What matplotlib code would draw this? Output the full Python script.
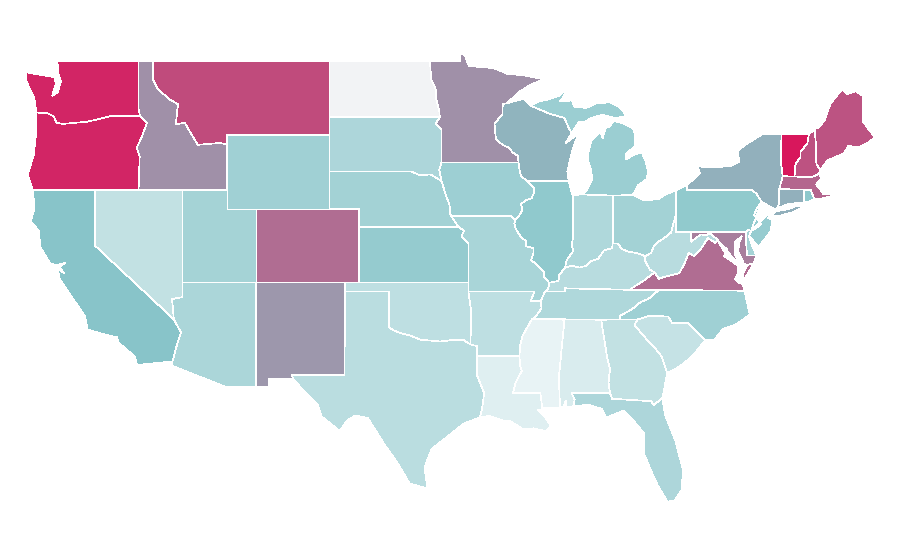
import matplotlib
matplotlib.use("Agg")
import matplotlib.pyplot as plt
from matplotlib.colors import LinearSegmentedColormap

# shared borders, (lon, lat)
RED_RIVER_N = [(-97.23,49.0),(-97.15,48.0),(-96.85,47.5),(-96.8,46.9),(-96.6,46.3),(-96.56,45.94)]
MN_SD = [(-96.56,45.94),(-96.85,45.6),(-96.45,45.3),(-96.45,43.5)]
SD_IA = [(-96.45,43.5),(-96.6,43.1),(-96.45,42.49)]
NE_SD = [(-104.05,43.0),(-98.5,43.0),(-97.9,42.8),(-97.2,42.85),(-96.45,42.49)]
NE_IA = [(-96.45,42.49),(-96.1,41.6),(-95.9,41.2),(-95.85,40.7),(-95.77,40.58)]
MO_NE = [(-95.77,40.58),(-95.3,40.0)]
MO_KS = [(-95.3,40.0),(-94.9,39.8),(-95.1,39.5),(-94.61,39.1),(-94.62,37.0)]
MN_WI = [(-92.0,46.7),(-92.29,46.66),(-92.3,46.1),(-92.85,45.6),(-92.75,44.74),(-92.3,44.45),(-91.9,44.3),(-91.6,44.03),(-91.25,43.85),(-91.22,43.5)]
IA_WI = [(-91.22,43.5),(-91.15,43.1),(-91.05,42.75),(-90.64,42.51)]
IA_IL = [(-90.64,42.51),(-90.42,42.33),(-90.15,42.1),(-90.17,41.85),(-90.33,41.55),(-90.7,41.45),(-91.05,41.25),(-90.95,40.95),(-91.1,40.7),(-91.42,40.38)]
MO_IL = [(-91.42,40.38),(-91.5,40.2),(-91.4,39.9),(-91.05,39.45),(-90.73,39.25),(-90.68,38.95),(-90.2,38.85),(-90.2,38.6),(-90.35,38.2),(-89.95,37.95),(-89.5,37.6),(-89.5,37.3),(-89.13,36.98)]
MO_KY = [(-89.13,36.98),(-89.2,36.65),(-89.42,36.5)]
MO_TN = [(-89.42,36.5),(-89.7,36.0)]
AR_TN = [(-89.7,36.0),(-89.65,35.6),(-90.1,35.1),(-90.3,35.0)]
AR_MS = [(-90.3,35.0),(-90.6,34.6),(-90.95,34.1),(-91.1,33.6),(-91.16,33.0)]
LA_MS = [(-91.16,33.0),(-91.1,32.5),(-91.0,32.2),(-91.4,31.6),(-91.6,31.0),(-89.73,31.0),(-89.6,30.18)]
IL_KY = [(-89.13,36.98),(-88.5,37.08),(-88.45,37.4),(-88.05,37.8)]
IN_KY = [(-88.05,37.8),(-87.6,37.9),(-87.1,37.8),(-86.6,37.9),(-86.3,38.15),(-85.8,38.28),(-85.42,38.73),(-84.85,38.85),(-84.82,39.1)]
OH_KY = [(-84.82,39.1),(-84.45,39.1),(-84.2,38.8),(-83.7,38.65),(-83.2,38.6),(-82.6,38.42)]
OH_WV = [(-82.6,38.42),(-82.2,38.6),(-82.0,39.0),(-81.75,39.2),(-81.4,39.35),(-80.85,39.7),(-80.7,40.2),(-80.52,40.64)]
KY_WV = [(-82.6,38.42),(-82.6,38.15),(-82.3,37.7),(-81.97,37.54)]
KY_VA = [(-81.97,37.54),(-82.7,37.1),(-83.68,36.6)]
VA_WV = [(-81.97,37.54),(-81.68,37.2),(-81.3,37.3),(-80.3,37.5),(-79.95,38.0),(-79.65,38.6),(-79.3,38.42),(-78.87,38.76),(-78.35,39.4),(-77.83,39.13),(-77.72,39.32)]
MD_WV = [(-77.72,39.32),(-78.2,39.68),(-78.45,39.55),(-78.8,39.6),(-79.1,39.45),(-79.48,39.2),(-79.48,39.72)]
POTOMAC = [(-77.72,39.32),(-77.5,39.1),(-77.04,38.79),(-77.25,38.4),(-76.95,38.27)]
IL_IN = [(-87.53,41.7),(-87.53,39.35),(-87.6,39.0),(-87.5,38.7),(-87.95,38.2),(-88.05,37.8)]
IN_OH = [(-84.8,41.7),(-84.82,39.1)]
WI_MI = [(-90.4,46.57),(-89.1,46.13),(-88.1,45.9),(-87.8,45.35),(-87.6,45.1)]
DELAWARE_R = [(-75.35,42.0),(-75.05,41.8),(-74.7,41.36),(-75.05,40.99),(-75.2,40.65),(-74.72,40.15),(-75.13,39.9),(-75.42,39.8)]
VT_NH = [(-71.5,45.0),(-71.6,44.5),(-72.05,44.1),(-72.05,43.8),(-72.4,43.4),(-72.45,43.0),(-72.46,42.73)]
NH_ME = [(-71.1,45.3),(-71.03,44.65),(-70.98,43.4),(-70.7,43.07)]
GA_SC = [(-83.1,35.0),(-83.35,34.7),(-82.6,34.0),(-82.0,33.5),(-81.5,33.0),(-81.12,32.1)]
GA_AL = [(-85.6,34.98),(-85.18,32.87),(-85.0,32.3),(-85.1,31.6),(-85.0,31.0)]
GA_FL = [(-85.0,31.0),(-84.86,30.7),(-82.2,30.57),(-82.05,30.36),(-81.45,30.72)]
NC_SC = [(-83.1,35.0),(-82.3,35.2),(-81.05,35.15),(-80.8,34.82),(-79.67,34.8),(-78.55,33.86)]
NC_TN = [(-84.32,34.99),(-84.3,35.2),(-83.5,35.55),(-82.9,35.95),(-82.4,36.1),(-81.68,36.59)]
VA_S = [(-83.68,36.6),(-81.68,36.59),(-75.87,36.55)]
RED_RIVER_S = [(-100.0,34.56),(-99.7,34.4),(-99.2,34.25),(-98.5,34.1),(-97.9,33.9),(-97.2,33.85),(-96.5,33.8),(-95.5,33.9),(-95.0,33.9),(-94.48,33.64)]
TX_LA = [(-94.04,33.02),(-94.04,31.99),(-93.55,31.0),(-93.7,30.1),(-93.84,29.69)]
OR_WA = [(-123.97,46.2),(-123.2,46.15),(-122.8,46.0),(-122.6,45.65),(-122.2,45.58),(-121.2,45.65),(-120.5,45.7),(-119.3,45.93),(-118.98,46.0),(-116.92,46.0)]
OR_ID = [(-116.92,46.0),(-116.45,45.65),(-116.85,44.8),(-117.15,44.3),(-116.95,43.83),(-117.03,42.0)]
ID_MT = [(-116.05,49.0),(-116.05,48.0),(-115.7,47.45),(-114.9,46.9),(-114.35,46.65),(-114.5,45.55),(-113.9,45.65),(-113.45,45.05),(-113.0,44.45),(-111.5,44.55),(-111.05,44.48)]
CA_AZ = [(-114.63,35.0),(-114.15,34.3),(-114.5,33.4),(-114.72,32.72)]
NV_AZ = [(-114.05,36.2),(-114.75,36.1),(-114.63,35.0)]


def rev(seg):
    return seg[::-1]


def chain(*segs):
    out = []
    for s in segs:
        out += s
    return out


state_names = ["WA", "OR", "CA", "NV", "ID", "MT", "WY", "UT", "AZ", "CO", "NM", "ND", "SD", "NE", "KS", "OK", "TX",
               "MN", "IA", "MO", "AR", "LA", "WI", "IL", "MS", "MI", "IN", "KY", "TN", "AL", "OH", "WV", "VA", "NC",
               "SC", "GA", "FL", "PA", "NY", "VT", "NH", "ME", "MA", "CT", "RI", "NJ", "DE", "MD"]

# colour score per state, None = no data
state_values = [0.96, 0.96, 0.50, 0.20, 0.65, 0.85, 0.375, 0.35, 0.32, 0.75, 0.63, None, 0.31, 0.36, 0.43, 0.22, 0.24,
                0.65, 0.39, 0.33, 0.22, 0.05, 0.55, 0.46, 0.0, 0.40, 0.30, 0.25, 0.30, 0.08, 0.36, 0.25, 0.75, 0.38,
                0.18, 0.20, 0.31, 0.45, 0.56, 1.0, 0.83, 0.825, 0.77, 0.56, 0.47, 0.42, 0.35, 0.70]

state_shapes = {
    "WA": [chain(OR_WA, [(-117.04,46.4),(-117.04,49.0),(-122.6,49.0),(-122.5,48.7),(-122.45,48.2),(-122.3,47.9),(-122.5,47.3),(-122.9,47.1),(-122.65,47.75),(-122.75,48.12),(-123.2,48.17),(-124.7,48.38),(-124.65,47.9),(-124.1,46.95),(-124.05,46.65)])],
    "OR": [chain(OR_WA, OR_ID, [(-124.2,42.0),(-124.55,42.84),(-124.15,43.9),(-124.0,45.0)])],
    "CA": [chain([(-124.2,42.0),(-120.0,42.0),(-120.0,39.0)], CA_AZ, [(-117.12,32.53),(-117.3,33.0),(-118.4,33.75),(-118.5,34.03),(-119.2,34.15),(-120.5,34.45),(-120.65,35.15),(-121.9,36.6),(-122.4,37.2),(-122.5,37.75),(-122.1,37.5),(-122.4,37.85),(-122.0,38.05),(-122.5,37.95),(-123.0,38.0),(-123.7,38.9),(-123.8,39.8),(-124.35,40.3),(-124.1,41.0)])],
    "NV": [chain([(-120.0,42.0),(-114.05,42.0)], NV_AZ, [(-120.0,39.0)])],
    "ID": [chain([(-117.04,46.4),(-117.04,49.0)], ID_MT, [(-111.05,42.0)], rev(OR_ID))],
    "MT": [chain(ID_MT, [(-111.05,45.0),(-104.05,45.0),(-104.05,49.0)])],
    "WY": [[(-111.05,45.0),(-104.05,45.0),(-104.05,41.0),(-111.05,41.0)]],
    "UT": [[(-114.05,42.0),(-111.05,42.0),(-111.05,41.0),(-109.05,41.0),(-109.05,37.0),(-114.05,37.0)]],
    "AZ": [chain([(-114.05,37.0),(-109.05,37.0),(-109.05,31.33),(-111.07,31.33),(-114.8,32.5)], rev(CA_AZ), rev(NV_AZ))],
    "CO": [[(-109.05,41.0),(-102.05,41.0),(-102.05,37.0),(-109.05,37.0)]],
    "NM": [[(-109.05,37.0),(-103.0,37.0),(-103.04,32.0),(-106.62,32.0),(-106.53,31.78),(-108.2,31.78),(-108.2,31.33),(-109.05,31.33)]],
    "ND": [chain([(-104.05,49.0)], RED_RIVER_N, [(-104.05,45.94)])],
    "SD": [chain([(-104.05,45.94)], MN_SD, SD_IA, rev(NE_SD))],
    "NE": [chain(NE_SD, NE_IA, MO_NE, [(-102.05,40.0),(-102.05,41.0),(-104.05,41.0)])],
    "KS": [chain(MO_KS, [(-102.05,37.0),(-102.05,40.0)])],
    "OK": [chain([(-103.0,37.0),(-94.62,37.0),(-94.62,36.5),(-94.43,35.4)], rev(RED_RIVER_S), [(-100.0,36.5),(-103.0,36.5)])],
    "TX": [chain([(-103.0,36.5),(-100.0,36.5)], RED_RIVER_S, [(-94.04,33.55)], TX_LA, [(-94.95,29.35),(-96.05,28.65),(-97.1,28.0),(-97.45,27.3),(-97.6,26.95),(-97.4,25.85),(-98.6,26.1),(-99.5,27.3),(-100.3,28.2),(-101.45,29.65),(-102.3,29.8),(-102.9,29.5),(-103.35,28.95),(-104.6,29.75),(-104.85,30.4),(-105.6,30.95),(-106.53,31.78),(-106.62,32.0),(-103.04,32.0)])],
    "MN": [chain([(-97.23,49.0),(-95.15,49.0),(-95.15,49.38),(-94.85,49.3),(-94.6,48.72),(-92.9,48.6),(-92.0,48.3),(-90.8,48.2),(-89.5,48.0),(-90.4,47.7),(-91.2,47.3)], MN_WI, [(-96.45,43.5)], rev(MN_SD), rev(RED_RIVER_N))],
    "IA": [chain([(-96.45,43.5)], [(-91.22,43.5)], IA_WI, IA_IL, [(-91.73,40.61)], rev(NE_IA), rev(SD_IA))],
    "MO": [chain([(-95.77,40.58),(-91.73,40.61)], MO_IL, MO_KY, MO_TN, [(-90.37,36.0),(-90.15,36.5),(-94.62,36.5)], rev(MO_KS), rev(MO_NE))],
    "AR": [chain([(-94.62,36.5),(-90.15,36.5),(-90.37,36.0)], AR_TN, AR_MS, [(-94.04,33.02),(-94.04,33.55),(-94.48,33.64),(-94.43,35.4)])],
    "LA": [chain([(-94.04,33.02)], LA_MS, [(-89.4,30.05),(-89.9,30.1),(-89.5,29.8),(-89.0,29.2),(-89.4,28.95),(-90.2,29.1),(-90.9,29.05),(-91.8,29.5),(-92.3,29.53),(-93.2,29.77)], rev(TX_LA))],
    "WI": [chain([(-90.4,46.57),(-90.85,46.95)], MN_WI, IA_WI, [(-87.8,42.49),(-87.9,43.0),(-87.7,43.7),(-87.5,44.3),(-87.05,45.25),(-87.4,44.9),(-88.0,44.55)], rev(WI_MI))],
    "IL": [chain([(-90.64,42.51),(-87.8,42.49),(-87.6,41.85)], IL_IN, rev(IL_KY), rev(MO_IL), rev(IA_IL))],
    "MS": [chain(rev(LA_MS), rev(AR_MS), [(-88.2,35.0),(-88.1,34.9),(-88.47,31.9),(-88.4,30.2)])],
    "MI": [chain([(-86.82,41.76),(-86.5,42.1),(-86.2,42.6),(-86.3,43.1),(-86.5,43.65),(-86.45,44.1),(-86.25,44.7),(-85.95,44.9),(-85.65,45.15),(-85.5,44.8),(-85.3,45.35),(-85.0,45.45),(-84.75,45.75),(-84.2,45.63),(-83.45,45.35),(-83.3,45.0),(-83.3,44.4),(-83.9,43.95),(-83.9,43.65),(-83.4,43.9),(-82.85,44.05),(-82.6,43.6),(-82.42,43.0),(-82.5,42.6),(-83.1,42.25),(-83.45,41.73),(-84.8,41.7)]),
           chain([(-89.8,46.8),(-89.2,46.9),(-88.45,47.1),(-87.95,47.47),(-88.2,47.0),(-88.4,46.8),(-87.6,46.85),(-87.4,46.5),(-86.6,46.45),(-85.9,46.7),(-85.0,46.75),(-84.4,46.5),(-84.1,46.25),(-83.9,45.98),(-84.7,45.9),(-85.5,46.08),(-86.3,45.9),(-86.7,45.7),(-87.1,45.7)], rev(WI_MI)),
           [(-89.2,47.85),(-88.5,48.15),(-88.9,48.1)]],
    "IN": [chain([(-87.53,41.7),(-87.2,41.75),(-86.82,41.76),(-84.8,41.7)], IN_OH, rev(IN_KY), rev(IL_IN))],
    "KY": [chain(IL_KY, IN_KY, OH_KY, KY_WV, KY_VA, [(-88.07,36.68),(-88.07,36.5)], rev(MO_KY))],
    "TN": [chain([(-88.07,36.5),(-88.07,36.68),(-83.68,36.6),(-81.68,36.59)], rev(NC_TN), [(-88.2,35.0)], rev(AR_TN), rev(MO_TN))],
    "AL": [chain([(-88.2,35.0)], GA_AL, [(-87.6,31.0),(-87.4,30.65),(-87.5,30.28),(-88.0,30.23),(-88.0,30.6),(-88.15,30.3),(-88.4,30.2),(-88.47,31.9),(-88.1,34.9)])],
    "OH": [chain([(-84.8,41.7),(-83.45,41.73),(-82.7,41.45),(-81.7,41.5),(-81.25,41.76),(-80.52,41.98)], rev(OH_WV), rev(OH_KY), rev(IN_OH))],
    "WV": [chain(OH_WV, [(-80.52,39.72)], rev(MD_WV), rev(VA_WV), rev(KY_WV))],
    "VA": [chain(POTOMAC, [(-76.3,37.9),(-76.3,37.5),(-76.5,37.2),(-76.3,37.0),(-76.0,36.92)], rev(VA_S), rev(KY_VA), VA_WV),
           [(-75.65,37.95),(-75.24,38.03),(-75.9,37.12),(-75.95,37.5)]],
    "NC": [chain(VA_S[1:], [(-75.5,35.25),(-76.5,34.7),(-77.3,34.5),(-77.9,33.9)], rev(NC_SC), [(-84.32,34.99)], NC_TN)],
    "SC": [chain(NC_SC, [(-79.2,33.2),(-80.0,32.6),(-80.7,32.25)], rev(GA_SC))],
    "GA": [chain([(-85.6,34.98),(-84.32,34.99)], GA_SC, [(-81.3,31.3)], rev(GA_FL), rev(GA_AL))],
    "FL": [chain([(-87.6,31.0)], GA_FL, [(-81.25,29.8),(-80.55,28.4),(-80.03,26.8),(-80.15,25.75),(-80.6,25.2),(-81.1,25.13),(-81.75,26.0),(-82.15,26.7),(-82.7,27.75),(-82.65,28.8),(-83.5,29.6),(-84.1,30.05),(-84.4,29.95),(-85.25,29.68),(-85.55,30.15),(-86.5,30.38),(-87.5,30.28),(-87.4,30.65)])],
    "PA": [chain([(-80.52,41.98),(-79.76,42.27),(-79.76,42.0)], DELAWARE_R, [(-75.6,39.84),(-75.79,39.72),(-80.52,39.72),(-80.52,40.64)])],
    "NY": [chain([(-79.76,42.27),(-79.76,42.0)], DELAWARE_R[:3], [(-73.9,41.0),(-73.65,41.0),(-73.5,41.3),(-73.5,42.05),(-73.27,42.75),(-73.4,43.6),(-73.35,45.0),(-74.7,45.0),(-75.8,44.45),(-76.35,44.1),(-76.2,43.55),(-76.8,43.3),(-77.6,43.25),(-79.05,43.27),(-78.9,42.9)]),
           [(-74.03,40.6),(-73.75,40.85),(-72.9,40.96),(-72.3,41.15),(-71.87,41.07),(-72.6,40.8),(-73.6,40.58)]],
    "VT": [chain([(-73.35,45.0)], VT_NH, [(-73.27,42.75),(-73.4,43.6)])],
    "NH": [chain(VT_NH, [(-71.3,42.7),(-70.82,42.87)], rev(NH_ME))],
    "ME": [chain(NH_ME, [(-70.25,43.6),(-69.8,43.75),(-69.1,44.0),(-68.8,44.4),(-68.2,44.3),(-67.6,44.5),(-67.0,44.85),(-67.45,45.3),(-67.8,45.7),(-67.8,47.07),(-68.3,47.36),(-68.9,47.2),(-69.23,47.46),(-70.0,46.7),(-70.25,46.2),(-70.4,45.8),(-70.8,45.4)])],
    "MA": [[(-73.27,42.75),(-72.46,42.73),(-71.3,42.7),(-70.82,42.87),(-70.6,42.65),(-71.0,42.3),(-70.65,41.95),(-70.5,41.78),(-70.0,41.8),(-70.2,42.07),(-69.95,41.67),(-70.65,41.53),(-71.12,41.5),(-71.2,41.67),(-71.38,42.02),(-71.8,42.02),(-73.5,42.05)]],
    "CT": [[(-73.5,42.05),(-71.8,42.02),(-71.85,41.32),(-72.9,41.25),(-73.65,41.0),(-73.5,41.3)]],
    "RI": [[(-71.8,42.02),(-71.38,42.02),(-71.2,41.67),(-71.12,41.5),(-71.5,41.37),(-71.85,41.32)]],
    "NJ": [chain(rev(DELAWARE_R[2:]), [(-75.55,39.5),(-74.9,38.93),(-74.1,39.75),(-73.97,40.4),(-74.25,40.48),(-73.9,41.0)])],
    "DE": [[(-75.79,39.72),(-75.6,39.84),(-75.42,39.8),(-75.55,39.5),(-75.4,39.1),(-75.05,38.45),(-75.7,38.46)]],
    "MD": [chain(rev(POTOMAC), [(-76.35,38.05),(-76.4,38.3),(-76.5,38.5),(-76.5,39.2),(-76.05,39.5),(-76.2,39.2),(-76.3,38.7),(-75.9,38.0),(-75.65,37.95),(-75.24,38.03),(-75.05,38.45),(-75.7,38.46),(-75.79,39.72),(-79.48,39.72)], rev(MD_WV)[1:])],
}

ramp = LinearSegmentedColormap.from_list("ramp", ["#e8f3f5", "#88c5c9", "#d8175c"])
no_data = "#f2f3f5"

fig = plt.figure(figsize=(9, 5.6), dpi=100)
ax = fig.add_axes([0, 0, 1, 1])
for name, value in zip(state_names, state_values):
    color = no_data if value is None else ramp(value)
    for part in state_shapes[name]:
        ax.fill([p[0] for p in part], [p[1] for p in part], facecolor=color,
                edgecolor="white", linewidth=0.5, antialiased=False)

# pixel scale of the reference: 14.72 px per degree lon, 18.47 px per degree lat
ax.set_xlim(-126.44, -65.30)
ax.set_ylim(21.97, 52.29)
ax.axis("off")
fig.savefig("out.png", dpi=100)
